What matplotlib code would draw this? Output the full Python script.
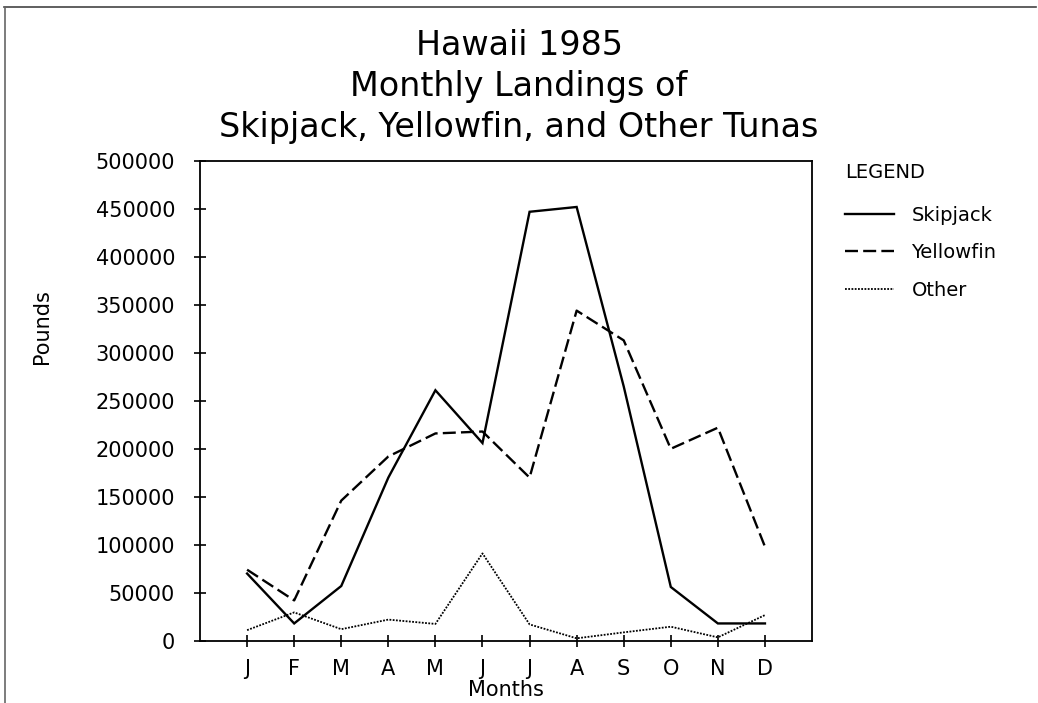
import matplotlib
matplotlib.use("Agg")
import matplotlib.pyplot as plt
from matplotlib.lines import Line2D

months = ["J", "F", "M", "A", "M", "J", "J", "A", "S", "O", "N", "D"]
skipjack = [70000, 18000, 57000, 170000, 261000, 206000, 447000, 452000, 265000, 56000, 18000, 18000]
yellowfin = [74000, 42000, 146000, 192000, 216000, 218000, 170000, 344000, 313000, 200000, 222000, 98000]
other = [11000, 29500, 12000, 22000, 17500, 91000, 17000, 2500, 8700, 14600, 3500, 26700]
yticks = list(range(0, 500001, 50000))

plt.rcParams['font.family'] = ['DejaVu Sans']

fig = plt.figure(figsize=(10.38, 7.03), dpi=100)
ax = fig.add_axes([0.1927, 0.0886, 0.5896, 0.6825])

x = list(range(1, len(months) + 1))
ax.plot(x, skipjack, color='black', lw=1.7, solid_joinstyle='miter', label="Skipjack")
ax.plot(x, yellowfin, color='black', lw=1.7, linestyle=(0, (5.5, 2.2)), label="Yellowfin")
ax.plot(x, other, color='black', lw=1.3, linestyle=(0, (1, 0.8)), label="Other")

ax.set_xlim(0, 13)
ax.set_ylim(0, 500000)
ax.set_xticks(x)
ax.set_xticklabels(months)
ax.set_yticks(yticks)
ax.set_yticklabels([str(v) for v in yticks])
ax.tick_params(direction='inout', length=8, width=1.2, labelsize=15, pad=9)
ax.tick_params(axis='y', pad=14)
for s in ax.spines.values():
    s.set_linewidth(1.3)

ax.set_xlabel("Months", fontsize=15, labelpad=1)
fig.text(0.040, 0.535, "Pounds", rotation=90, ha='center', va='center',
         fontsize=15, family=['Liberation Sans Narrow', 'DejaVu Sans'])

fig.text(0.5, 0.935, "Hawaii 1985", ha='center', va='center', fontsize=24)
fig.text(0.5, 0.877, "Monthly Landings of", ha='center', va='center', fontsize=24)
fig.text(0.5, 0.819, "Skipjack, Yellowfin, and Other Tunas", ha='center', va='center', fontsize=24)

leg = fig.legend(*ax.get_legend_handles_labels(), loc='upper left',
                 bbox_to_anchor=(0.805, 0.782), frameon=False, borderpad=0,
                 title="LEGEND", fontsize=14, title_fontsize=14,
                 handlelength=2.5, handletextpad=0.9, labelspacing=0.95)
leg._legend_box.align = "left"
leg._legend_box.sep = 17

# page border
fig.add_artist(Line2D([0.004, 0.998], [0.990, 0.990], color='#444444', lw=1.2))
fig.add_artist(Line2D([0.005, 0.005], [0.0, 0.990], color='#666666', lw=1.2))

fig.savefig("out.png", dpi=100)
